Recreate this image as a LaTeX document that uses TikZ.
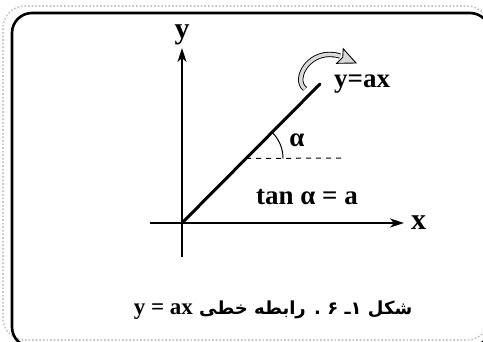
\documentclass[tikz,border=0pt]{standalone}
\usepackage{fontspec}
\setmainfont{Liberation Serif}
\newfontfamily\farsifont[Script=Arabic]{DejaVu Sans}
\TeXXeTstate=1
\usetikzlibrary{positioning,arrows.meta,calc}
\tikzset{
  outerframe/.style={draw=gray!45, line width=1.6pt, dotted, rounded corners=22pt},
  frame/.style={draw=black, line width=2.6pt, rounded corners=20pt},
  axis/.style={line width=1.6pt, -{Stealth[length=14pt, width=9pt, inset=4pt]}},
  graph/.style={line width=3pt, line cap=round},
  hline/.style={line width=1pt, dash pattern=on 5pt off 5pt},
  angarc/.style={line width=1pt},
  lbl/.style={inner sep=0pt, font=\fontsize{27}{30}\selectfont\bfseries},
  axlbl/.style={inner sep=0pt, font=\fontsize{30}{32}\selectfont\bfseries},
  captxt/.style={inner sep=0pt, font=\fontsize{18}{24}\selectfont\bfseries},
  band/.style={line width=0.9pt, double=gray!30, double distance=3.5pt},
  head/.style={draw=black, fill=gray!30, line width=0.9pt, line join=miter},
}
\begin{document}
\begin{tikzpicture}[x=1pt, y=1pt]
\useasboundingbox (0,0) rectangle (483,341);
\begin{scope}
  \clip (0,0) rectangle (483,341);
  \draw[outerframe] (3,1) rectangle (489,335);
  \draw[frame] (12,-6) rectangle (490,328);
\end{scope}
% axes
\coordinate (O) at (182,118);
\coordinate (ytop) at (182,293);
\coordinate (ybot) at (182,84);
\coordinate (xleft) at (150,118);
\coordinate (xright) at (404,118);
\draw[axis] (ybot) -- (ytop);
\draw[axis] (xleft) -- (xright);
\node[axlbl, above=3pt of ytop] (ylab) {y};
\node[axlbl, right=7pt of xright] (xlab) {x};
% the line y=ax
\coordinate (L) at (320,257);
\coordinate (A) at ($(O)!0.464!(L)$);
\coordinate (dend) at (346,183);
\draw[graph] (O) -- (L);
\draw[hline] (A) -- (dend);
\draw[angarc] ($(A)+(37,0)$) arc[start angle=0, end angle=45.4, radius=37];
\node[lbl, right=14pt of L] (eq) {y=ax};
\node[lbl] (alpha) at (297,201) {α};
\node[lbl] (tan) at (307,144) {tan α = a};
% curved arrow
\coordinate (tl) at (305,252);
\coordinate (hb) at (340,285);
\coordinate (tip) at (356,278);
\draw[band] (tl) .. controls (292,262) and (310,294) .. (hb);
\draw[head] ($(hb)!8pt!90:(tip)$) -- (tip) -- ($(hb)!8pt!-90:(tip)$)
  -- ($(hb)!3pt!(tip)$) -- cycle;
% caption
\node[captxt] (caption) at (273,31)
  {\farsifont\beginR شکل ۱ـ ۶ . رابطه خطی \beginL\rmfamily\fontsize{23}{24}\selectfont y = ax\endL\endR};
\end{tikzpicture}
\end{document}
